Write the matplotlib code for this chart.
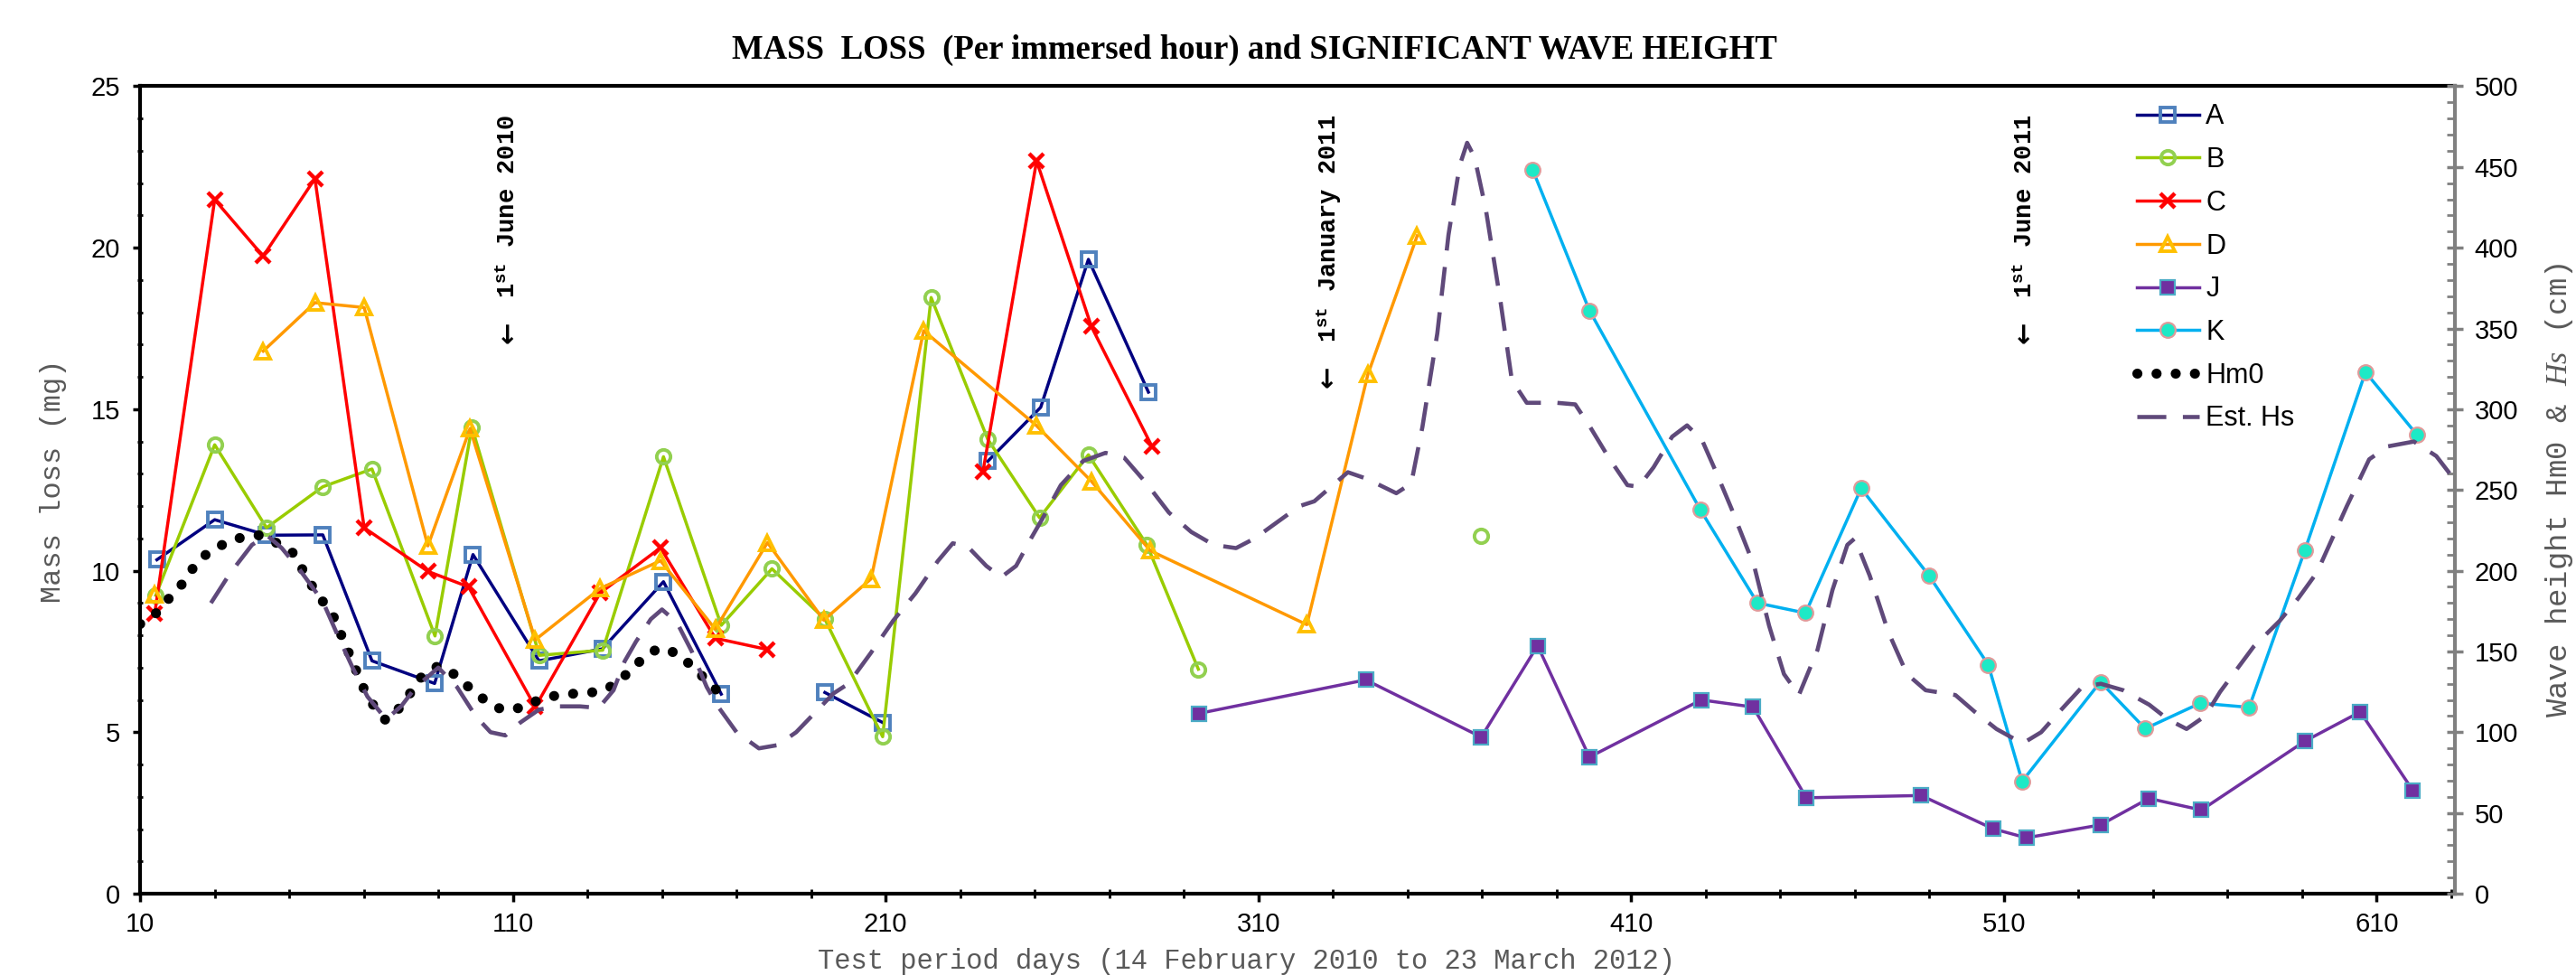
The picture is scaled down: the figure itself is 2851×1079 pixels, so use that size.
import numpy as np
import matplotlib
matplotlib.use("Agg")
import matplotlib.pyplot as plt
from matplotlib.font_manager import FontProperties

nan = np.nan

# ---------------- data ----------------
A_days = [14.5, 30, 44, 59, 72.2, 89, 99.3, 117, 134, 150.4, 165.9, nan, 193.7, 209.2, nan, 237.4, 251.6, 264.4, 280.5]
A_vals = [10.34, 11.58, 11.1, 11.11, 7.21, 6.51, 10.5, 7.21, 7.58, 9.66, 6.18, nan, 6.23, 5.3, nan, 13.39, 15.06, 19.64, 15.53]

B_days = [14.2, 30, 43.9, 59, 72.2, 89.1, 99, 117.1, 134.1, 150.4, 165.9, 179.5, 193.7, 209.2, 222.2, 237.4, 251.3, 264.4, 280.1, 293.9, nan, 369.8]
B_vals = [9.24, 13.9, 11.33, 12.6, 13.15, 7.98, 14.45, 7.38, 7.54, 13.53, 8.31, 10.06, 8.5, 4.86, 18.46, 14.07, 11.64, 13.59, 10.8, 6.95, nan, 11.08]

C_days = [13.9, 30, 43, 56.9, 70.1, 87.2, 98.1, 116, 133.4, 149.6, 164.3, 178.3, nan, 236.1, 250.5, 265.2, 281.4]
C_vals = [8.66, 21.49, 19.74, 22.14, 11.33, 9.98, 9.5, 5.78, 9.31, 10.71, 7.91, 7.56, nan, 13.06, 22.69, 17.56, 13.86]

D_days = [13.9, nan, 43, 56.9, 70.1, 87.2, 98.5, 116, 133.4, 149.6, 164.3, 178.3, 193.4, 206.1, 220.2, 250.4, 265.2, 281, 323, 339.4, 352.6]
D_vals = [9.26, nan, 16.8, 18.3, 18.15, 10.77, 14.4, 7.86, 9.45, 10.31, 8.19, 10.87, 8.47, 9.75, 17.43, 14.5, 12.77, 10.62, 8.33, 16.09, 20.37]

J_days = [294, 338.8, 369.8, 384.9, 398.8, 428.8, 442.7, 457, 487.8, 507.1, 516, 535.9, 548.9, 563, 590.7, 605.6, 619.7]
J_vals = [5.58, 6.62, 4.85, 7.68, 4.23, 6.0, 5.78, 2.97, 3.04, 2.01, 1.73, 2.13, 2.95, 2.59, 4.72, 5.63, 3.2]

K_days = [383.6, 398.8, 428.6, 443.9, 456.8, 471.7, 489.9, 505.8, 514.9, 535.9, 547.9, 562.7, 575.8, 590.7, 607, 620.8]
K_vals = [22.41, 18.06, 11.88, 9.0, 8.69, 12.55, 9.85, 7.09, 3.48, 6.56, 5.11, 5.9, 5.77, 10.62, 16.15, 14.21]

# wave heights (cm, right axis)
Hm0_days = [10, 14, 17, 21, 24, 27, 32, 36, 42, 46, 51, 53.5, 56, 59, 62, 64, 66, 68, 70, 72.5, 76,
            80, 83, 86, 90, 95, 99, 103, 107, 112, 117, 122, 127, 133, 137, 141, 145, 149, 154, 158, 162, 165.5]
Hm0_cm = [167, 173, 181, 191, 201, 209, 216, 220, 222, 218, 211, 201, 191, 181, 171, 160, 149, 138, 127, 117, 107,
          116, 126, 136, 141, 135, 126, 119, 114, 115, 120, 123, 124, 125, 129, 137, 146, 152, 149, 141, 132, 124]

EstHs_days = [29, 34, 40, 44, 48, 53, 59, 63, 67, 71, 76, 80, 84, 90, 95, 100, 104, 108, 112, 117, 122, 128, 133,
              137, 140, 143, 147, 150, 154, 158, 162, 165, 170, 176, 181, 186, 191, 196, 200, 206, 212, 218, 224,
              228, 232, 237, 241, 245, 249, 252, 257, 263, 269, 274, 280, 286, 292, 298, 304, 309, 315, 321, 325,
              334, 339, 347, 351, 354, 358, 361, 364, 366, 368, 371, 375, 378, 382, 390, 395, 399, 404, 409, 412,
              416, 421, 425, 429, 433, 437, 443, 447, 451, 455, 460, 464, 468, 470, 474, 479, 484, 489, 497, 502,
              508, 515, 520, 525, 531, 536, 542, 549, 554, 559, 564, 568, 577, 584, 589, 594, 602, 608, 613, 620,
              626, 631]
EstHs_cm = [180, 198, 216, 222, 214, 200, 181, 160, 140, 122, 108, 116, 128, 140, 128, 110, 100, 98, 106, 114, 116,
            116, 115, 126, 144, 156, 170, 176, 168, 150, 128, 116, 100, 90, 92, 100, 112, 124, 130, 149, 169, 186,
            206, 217, 215, 203, 196, 203, 220, 232, 253, 268, 273, 270, 254, 236, 224, 216, 214, 220, 230, 240,
            243, 261, 257, 248, 254, 289, 347, 408, 451, 465, 456, 424, 366, 318, 304, 304, 303, 289, 270, 253,
            252, 264, 283, 290, 281, 260, 238, 203, 166, 136, 123, 151, 188, 216, 220, 197, 162, 136, 126, 123,
            113, 102, 93, 100, 113, 128, 130, 126, 117, 108, 102, 110, 125, 153, 169, 183, 199, 240, 269, 277,
            280, 271, 256]

x_ticks = [10, 110, 210, 310, 410, 510, 610]
left_ticks = [0, 5, 10, 15, 20, 25]
right_ticks = [0, 50, 100, 150, 200, 250, 300, 350, 400, 450, 500]

title = "MASS  LOSS  (Per immersed hour) and SIGNIFICANT WAVE HEIGHT"
xlabel = "Test period days (14 February 2010 to 23 March 2012)"
ylabel = "Mass loss (mg)"
y2label = r"Wave height Hm0 & $\mathit{Hs}$ (cm)"
event_days = [108.9, 328.9, 515.8]
event_texts = [r"1$^{\mathbf{st}}$ June 2010", r"1$^{\mathbf{st}}$ January 2011", r"1$^{\mathbf{st}}$ June 2011"]
arrow_top = [0.709, 0.654, 0.709]

# ---------------- style ----------------
plt.rcParams['mathtext.fontset'] = 'custom'
plt.rcParams['mathtext.rm'] = 'Liberation Mono'
plt.rcParams['mathtext.it'] = 'Liberation Serif:italic'
plt.rcParams['mathtext.bf'] = 'Liberation Mono:bold'
plt.rcParams['font.family'] = ['Liberation Sans Narrow', 'Liberation Sans', 'DejaVu Sans']

fig = plt.figure(figsize=(28.51, 10.79), dpi=100)
ax = fig.add_axes([0.0544, 0.0834, 0.8986, 0.8281])
ax2 = ax.twinx()

lw = 2.5
ax.plot(A_days, A_vals, color='#000080', lw=lw, marker='s', ms=11, mfc='none', mec='#4f81bd', mew=2.8, label='A')
ax.plot(B_days, B_vals, color='#99cc00', lw=lw, marker='o', ms=11, mfc='none', mec='#92d050', mew=2.8, label='B')
ax.plot(C_days, C_vals, color='#ff0000', lw=lw, marker='x', ms=12, mec='#ff0000', mew=3.2, label='C')
ax.plot(D_days, D_vals, color='#ff9900', lw=lw, marker='^', ms=12, mfc='none', mec='#ffc000', mew=2.8, label='D')
ax.plot(J_days, J_vals, color='#7030a0', lw=lw, marker='s', ms=12, mfc='#7030a0', mec='#4bacc6', mew=1.6, label='J')
ax.plot(K_days, K_vals, color='#00b0f0', lw=lw, marker='o', ms=12, mfc='#1de9c6', mec='#e09a9a', mew=1.6, label='K')

ax2.plot(Hm0_days, Hm0_cm, color='black', lw=8, linestyle=(0, (0.01, 1.9)),
         dash_capstyle='round', solid_capstyle='round', label='Hm0')
ax2.plot(EstHs_days, EstHs_cm, color='#5f497a', lw=3.3, linestyle=(0, (7, 4)), label='Est. Hs')

ax.set_xlim(10, 631)
ax.set_ylim(0, 25)
ax2.set_ylim(0, 500)

ax.set_xticks(x_ticks)
ax.set_xticks(np.arange(30, 631, 20), minor=True)
ax.set_yticks(left_ticks)
ax.set_yticks(np.arange(0, 25.1, 1), minor=True)
ax2.set_yticks(right_ticks)
ax2.set_yticks(np.arange(0, 501, 10), minor=True)

for s in ['left', 'bottom', 'top']:
    ax.spines[s].set_linewidth(3)
ax.spines['right'].set_visible(False)
for s in ['left', 'bottom', 'top']:
    ax2.spines[s].set_visible(False)
ax2.spines['right'].set_color('#808080')
ax2.spines['right'].set_linewidth(3)

tls = 21
ax.tick_params(axis='x', which='major', direction='out', length=6.5, width=2.5, labelsize=tls, pad=8)
ax.tick_params(axis='x', which='minor', direction='inout', length=7, width=2)
ax.tick_params(axis='y', which='major', direction='out', length=6, width=2.5, labelsize=tls, pad=10)
ax.tick_params(axis='y', which='minor', direction='inout', length=5, width=2)
ax2.tick_params(axis='y', which='major', direction='inout', length=13, width=2.5, color='#808080',
                labelsize=tls, labelcolor='black', pad=9)
ax2.tick_params(axis='y', which='minor', direction='in', length=6.5, width=2, color='#808080')

# event annotations
mono_bold = dict(fontsize=19.5, fontweight='bold', family=['Liberation Mono', 'DejaVu Sans Mono'])
for xd, txt, ya in zip(event_days, event_texts, arrow_top):
    ax.text(xd, 0.965, txt, transform=ax.get_xaxis_transform(), rotation=90, ha='center', va='top', **mono_bold)
    ax.text(xd, ya, "←", transform=ax.get_xaxis_transform(), rotation=90, ha='center', va='top',
            fontsize=21, fontweight='bold', family=['DejaVu Sans'])

# labels and title
fig.text(0.487, 0.949, title, ha='center', va='center', fontsize=26.5, fontweight='bold',
         family=['Liberation Serif', 'DejaVu Serif'])
fig.text(0.484, 0.0139, xlabel, ha='center', va='center', fontsize=22, color='#595959',
         family=['Liberation Mono', 'DejaVu Sans Mono'])
fig.text(0.0207, 0.507, ylabel, ha='center', va='center', rotation=90, fontsize=23, color='#595959',
         family=['Liberation Mono', 'DejaVu Sans Mono'])
fig.text(0.9935, 0.4977, y2label, ha='center', va='center', rotation=90, fontsize=24.5, color='#595959',
         family=['Liberation Mono', 'DejaVu Sans Mono'])

# legend
h1, l1 = ax.get_legend_handles_labels()
h2, l2 = ax2.get_legend_handles_labels()
leg = ax2.legend(h1 + h2, l1 + l2, loc='upper left', bbox_to_anchor=(0.8295, 0.894),
                 bbox_transform=fig.transFigure, frameon=False, handlelength=2.25,
                 prop=FontProperties(family=['Liberation Sans', 'DejaVu Sans'], size=22),
                 handletextpad=0.25, labelspacing=0.58, borderpad=0, borderaxespad=0)

fig.savefig('out.png', dpi=100)
